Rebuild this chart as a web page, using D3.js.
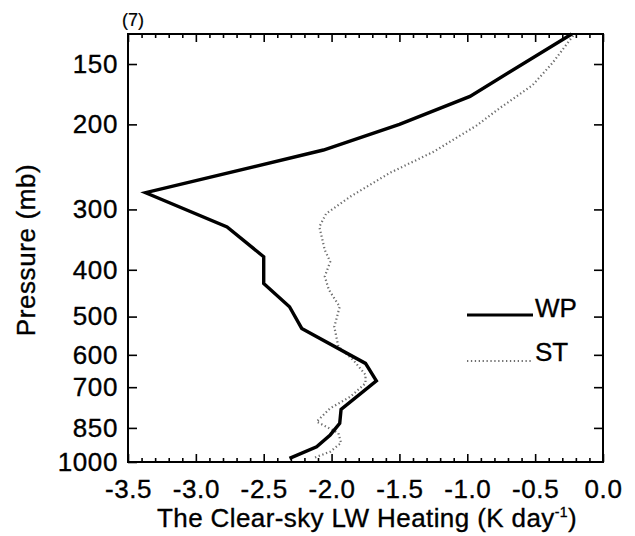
<!DOCTYPE html>
<html>
<head>
<meta charset="utf-8">
<script src="https://cdn.jsdelivr.net/npm/d3@7"></script>
<style>
  body { margin: 0; background: white; }
  svg text { font-family: "Liberation Sans", Arial, Helvetica, sans-serif; fill: black; stroke: black; stroke-width: 0.35px; }
</style>
</head>
<body>
<div id="chart"></div>
<script>
// clear-sky LW heating profiles
const pressureWP = [130, 175, 200, 226, 277, 326, 376, 427, 477, 529, 625, 679, 778, 832, 879, 930, 983]
const heatingWP  = [-0.23, -0.98, -1.50, -2.06, -3.37, -2.77, -2.50, -2.50, -2.31, -2.22, -1.75, -1.67, -1.93, -1.94, -2.01, -2.11, -2.31]

const pressureST = [131, 149, 166, 185, 201, 228, 252, 282, 306, 326, 364, 385, 413, 440, 477, 525, 577, 615, 660, 687, 732, 774, 825, 871, 913, 952, 983]
const heatingST  = [-0.22, -0.37, -0.52, -0.76, -0.93, -1.25, -1.57, -1.86, -2.04, -2.09, -2.05, -2.01, -2.05, -2.02, -1.94, -1.98, -1.95, -1.84, -1.75, -1.75, -1.86, -2.01, -2.11, -1.95, -1.93, -2.01, -2.14]

const seriesNames = ["WP", "ST"]
const xTicks = [-3.5, -3.0, -2.5, -2.0, -1.5, -1.0, -0.5, 0.0]
const yTicks = [150, 200, 300, 400, 500, 600, 700, 850, 1000]

const W = 635, H = 536
const margin = {top: 34, right: 32, bottom: 74, left: 128}
const width = W - margin.left - margin.right
const height = H - margin.top - margin.bottom

const svg = d3.select("#chart")
              .append("svg")
              .attr("width", W)
              .attr("height", H)

const g = svg.append("g")
             .attr("transform", "translate(" + margin.left + "," + margin.top + ")")

const x = d3.scaleLinear()
            .domain([-3.5, 0])
            .range([0, width])

const y = d3.scaleLog()
            .domain([130, 1000])
            .range([0, height])

const minorX = d3.range(-35, 1).map(d => d / 10).filter(d => Math.abs(d * 2 - Math.round(d * 2)) > 1e-6)

function styleAxis(sel) {
    sel.select(".domain").remove()
    sel.selectAll("line").attr("stroke", "black").attr("stroke-width", 1.6)
    sel.selectAll("text").style("font-size", "26px").attr("letter-spacing", "0.6px")
}

// bottom axis
g.append("g")
 .attr("transform", "translate(0," + height + ")")
 .call(d3.axisBottom(x).tickValues(xTicks).tickSizeInner(-8).tickSizeOuter(0).tickPadding(18).tickFormat(d => d.toFixed(1)))
 .call(styleAxis)

g.append("g")
 .attr("transform", "translate(0," + height + ")")
 .call(d3.axisBottom(x).tickValues(minorX).tickSizeInner(-4).tickSizeOuter(0).tickFormat(""))
 .call(styleAxis)

// top axis
g.append("g")
 .call(d3.axisTop(x).tickValues(xTicks).tickSizeInner(-8).tickSizeOuter(0).tickFormat(""))
 .call(styleAxis)

g.append("g")
 .call(d3.axisTop(x).tickValues(minorX).tickSizeInner(-4).tickSizeOuter(0).tickFormat(""))
 .call(styleAxis)

// left axis
g.append("g")
 .call(d3.axisLeft(y).tickValues(yTicks).tickSizeInner(-9).tickSizeOuter(0).tickPadding(10).tickFormat(d => d))
 .call(styleAxis)

// right axis
g.append("g")
 .attr("transform", "translate(" + width + ",0)")
 .call(d3.axisRight(y).tickValues(yTicks.slice(0, -1)).tickSizeInner(-9).tickSizeOuter(0).tickFormat(""))
 .call(styleAxis)

// frame
g.append("rect")
 .attr("width", width)
 .attr("height", height)
 .attr("fill", "none")
 .attr("stroke", "black")
 .attr("stroke-width", 2)

const line = d3.line()
               .x(d => x(d[0]))
               .y(d => y(d[1]))

g.append("path")
 .datum(d3.zip(heatingST, pressureST))
 .attr("fill", "none")
 .attr("stroke", "#6e6e6e")
 .attr("stroke-width", 2.2)
 .attr("stroke-dasharray", "1.3 2.6")
 .attr("d", line)

g.append("path")
 .datum(d3.zip(heatingWP, pressureWP))
 .attr("fill", "none")
 .attr("stroke", "black")
 .attr("stroke-width", 3.4)
 .attr("stroke-linejoin", "miter")
 .attr("d", line)

// legend
const legend = g.append("g").attr("transform", "translate(" + (467 - margin.left) + "," + (315 - margin.top) + ")")
legend.append("line").attr("x1", 0).attr("x2", 66).attr("y1", 0).attr("y2", 0)
      .attr("stroke", "black").attr("stroke-width", 3)
legend.append("text").attr("x", 68).attr("y", 2).style("font-size", "26px").text(seriesNames[0])
legend.append("line").attr("x1", 0).attr("x2", 66).attr("y1", 46).attr("y2", 46)
      .attr("stroke", "#6e6e6e").attr("stroke-width", 2).attr("stroke-dasharray", "1.3 2.6")
legend.append("text").attr("x", 68).attr("y", 46).style("font-size", "26px").text(seriesNames[1])

// axis titles
const xt = svg.append("text")
              .attr("x", 367)
              .attr("y", 527)
              .attr("text-anchor", "middle")
              .style("font-size", "26px")
              .attr("letter-spacing", "0.4px")
xt.append("tspan").text("The Clear-sky LW Heating (K day")
xt.append("tspan").attr("dy", -10).style("font-size", "14px").text("-1")
xt.append("tspan").attr("dy", 10).text(")")

svg.append("text")
   .attr("transform", "translate(35," + (margin.top + height / 2 + 2) + ") rotate(-90)")
   .attr("text-anchor", "middle")
   .style("font-size", "26px")
   .attr("letter-spacing", "0.6px")
   .text("Pressure (mb)")

svg.append("text")
   .attr("x", 122)
   .attr("y", 26)
   .style("font-size", "18px")
   .style("stroke-width", "0.2px")
   .text("(7)")
</script>
</body>
</html>
